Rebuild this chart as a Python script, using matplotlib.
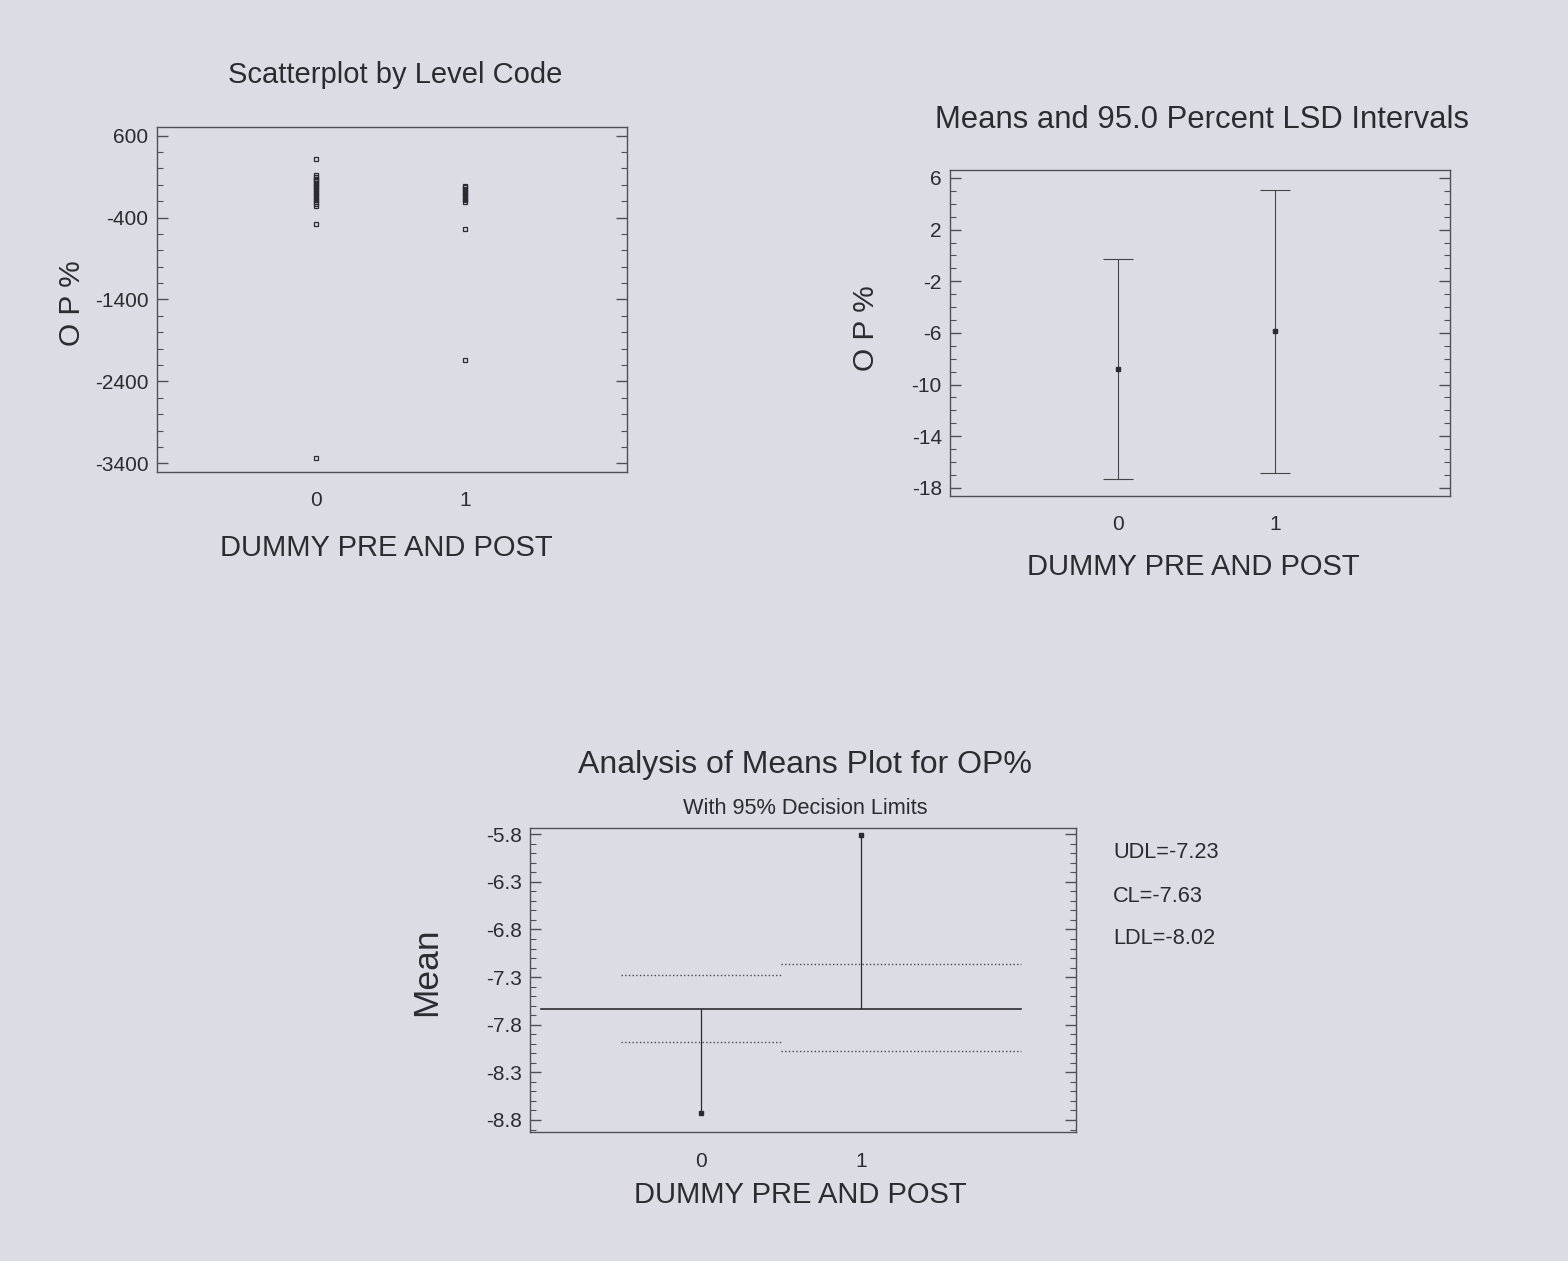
import matplotlib
matplotlib.use("Agg")
import matplotlib.pyplot as plt
from matplotlib.ticker import FixedLocator, MultipleLocator

plt.rcParams['font.family'] = ['Liberation Sans', 'DejaVu Sans']
plt.rcParams['axes.unicode_minus'] = False

levels = [0, 1]
level_labels = ['0', '1']

# scatterplot by level code: OP% of every observation in each group
op_level0 = [320, 115, 95, 75, 55, 40, 20, 5, -10, -30, -50, -70, -90, -110,
             -130, -150, -170, -190, -210, -235, -255, -475, -3340]
op_level1 = [-10, -30, -50, -70, -90, -110, -130, -150, -170, -190, -215,
             -540, -2140]
scatter_ticks = [600, -400, -1400, -2400, -3400]

# means and 95.0 percent LSD intervals
lsd_means = [-8.8, -5.87]
lsd_halfwidth = [8.55, 10.95]
lsd_ticks = [6, 2, -2, -6, -10, -14, -18]

# analysis of means, 95% decision limits
anom_means = [-8.73, -5.81]
anom_cl = -7.63
anom_udl = [-7.28, -7.16]
anom_ldl = [-7.98, -8.08]
anom_edges = [-0.5, 0.5, 2.0]
anom_cl_span = [-1.0, 2.0]
anom_ticks = [-5.8, -6.3, -6.8, -7.3, -7.8, -8.3, -8.8]
limit_labels = ['UDL=-7.23', 'CL=-7.63', 'LDL=-8.02']

bg = '#dcdce5'
ink = '#2b2b30'
W, H = 1568, 1261


def px(x, y):
    return x / W, 1 - y / H


def style(ax, ticks, minor, fmt):
    ax.set_facecolor('none')
    for s in ax.spines.values():
        s.set_color('#505056')
        s.set_linewidth(1.0)
    ax.yaxis.set_major_locator(FixedLocator(ticks))
    ax.set_yticklabels([fmt.format(t) for t in ticks])
    ax.yaxis.set_minor_locator(MultipleLocator(minor))
    ax.tick_params(axis='y', which='both', direction='in', left=True, right=True,
                   color='#505056', labelsize=15, labelcolor=ink, pad=6)
    ax.tick_params(axis='y', which='major', length=8, width=1)
    ax.tick_params(axis='y', which='minor', length=4, width=0.8)
    ax.set_xticks(levels)
    ax.set_xticklabels(level_labels)
    ax.tick_params(axis='x', length=0, labelsize=15, labelcolor=ink, pad=14)


fig = plt.figure(figsize=(W / 100, H / 100), dpi=100, facecolor=bg)

# --- Scatterplot by Level Code ---
ax1 = fig.add_axes([0.100, 0.626, 0.300, 0.273])
ax1.plot([levels[0]] * len(op_level0), op_level0, 's', ms=2.4, mfc='none', mec=ink, mew=0.9)
ax1.plot([levels[1]] * len(op_level1), op_level1, 's', ms=2.4, mfc='none', mec=ink, mew=0.9)
ax1.set_xlim(-1.07, 2.09)
ax1.set_ylim(-3500, 700)
style(ax1, scatter_ticks, 200, '{:d}')
fig.text(*px(395, 75), 'Scatterplot by Level Code', ha='center', va='center', fontsize=21, color=ink)
fig.text(*px(72, 303), 'O P %', ha='center', va='center', rotation=90, fontsize=21.5, color=ink)
fig.text(*px(386, 548), 'DUMMY PRE AND POST', ha='center', va='center', fontsize=21, color=ink)

# --- Means and 95.0 Percent LSD Intervals ---
ax2 = fig.add_axes([0.606, 0.607, 0.319, 0.258])
ax2.errorbar(levels, lsd_means, yerr=lsd_halfwidth, fmt='s', ms=2.6, color=ink,
             ecolor='#45454a', elinewidth=0.8, capsize=11, capthick=0.8)
ax2.set_xlim(-1.07, 2.12)
ax2.set_ylim(-18.6, 6.6)
style(ax2, lsd_ticks, 1, '{:d}')
fig.text(*px(1202, 120), 'Means and 95.0 Percent LSD Intervals', ha='center', va='center', fontsize=22.3, color=ink)
fig.text(*px(866, 328), 'O P %', ha='center', va='center', rotation=90, fontsize=21.5, color=ink)
fig.text(*px(1193, 567), 'DUMMY PRE AND POST', ha='center', va='center', fontsize=21, color=ink)

# --- Analysis of Means Plot ---
ax3 = fig.add_axes([0.338, 0.102, 0.348, 0.241])
ax3.plot(anom_cl_span, [anom_cl, anom_cl], color=ink, lw=1.2)
for i in range(len(levels)):
    span = [anom_edges[i], anom_edges[i + 1]]
    ax3.plot(span, [anom_udl[i]] * 2, ':', color='#4a4a50', lw=1.0)
    ax3.plot(span, [anom_ldl[i]] * 2, ':', color='#4a4a50', lw=1.0)
ax3.vlines(levels, anom_cl, anom_means, color=ink, lw=0.9)
ax3.plot(levels, anom_means, 's', ms=2.6, color=ink)
ax3.set_xlim(-1.07, 2.34)
ax3.set_ylim(-8.93, -5.74)
style(ax3, anom_ticks, 0.1, '{:.1f}')
fig.text(*px(805, 765), 'Analysis of Means Plot for OP%', ha='center', va='center', fontsize=23, color=ink)
fig.text(*px(805, 808), 'With 95% Decision Limits', ha='center', va='center', fontsize=15.7, color=ink)
fig.text(*px(427, 972), 'Mean', ha='center', va='center', rotation=90, fontsize=25.5, color=ink)
fig.text(*px(800, 1195), 'DUMMY PRE AND POST', ha='center', va='center', fontsize=21, color=ink)
for k, lab in enumerate(limit_labels):
    fig.text(*px(1113, 853 + 43 * k), lab, ha='left', va='center', fontsize=15.7, color=ink)

fig.savefig('out.png', dpi=100, facecolor=bg)
